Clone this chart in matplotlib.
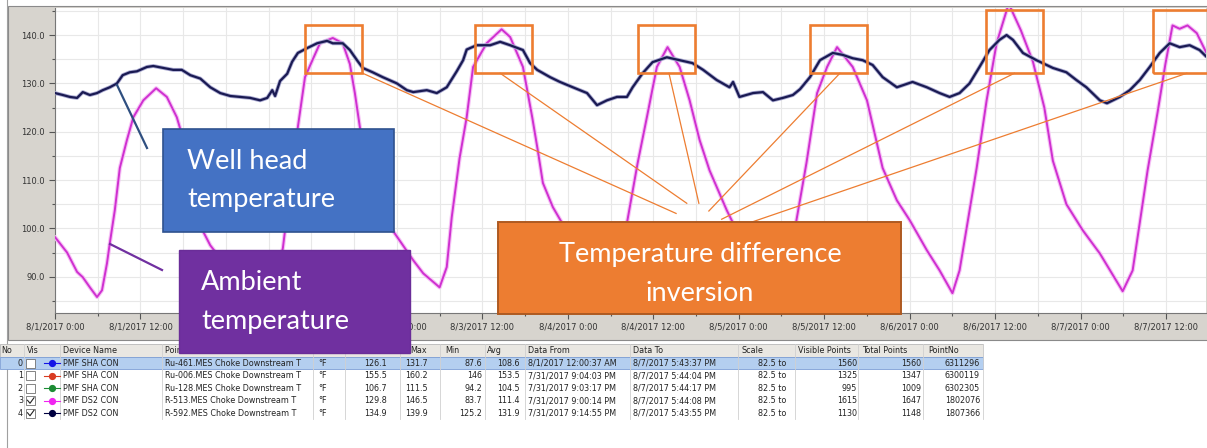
import numpy as np
import matplotlib
matplotlib.use("Agg")
import matplotlib.pyplot as plt
import matplotlib.transforms as mtransforms
from matplotlib.patches import Rectangle
from matplotlib.lines import Line2D

# ---- data (hours since 8/1/2017 0:00, deg F) ----
wh_h = [0.0, 1.1, 2.1, 3.1, 3.9, 4.9, 5.9, 6.7, 7.7, 8.7,
        9.5, 10.5, 11.5, 12.9, 13.8, 15.2, 16.6, 17.8, 19.0, 20.4,
        21.8, 23.2, 24.6, 26.0, 27.4, 28.8, 29.8, 30.5, 30.9, 31.6,
        32.6, 33.3, 34.1, 35.4, 36.8, 38.2, 39.0, 40.4, 41.4, 42.4,
        43.2, 44.6, 46.0, 48.0, 49.4, 50.3, 52.2, 53.6, 55.0, 56.4,
        57.3, 57.8, 59.2, 61.1, 62.5, 63.9, 65.7, 66.7, 67.7, 69.5,
        70.9, 72.7, 74.7, 76.1, 77.5, 78.9, 80.3, 81.1, 82.5, 83.9,
        85.9, 87.7, 89.5, 91.0, 92.9, 94.7, 95.2, 96.1, 98.0, 99.4,
        100.8, 102.2, 103.6, 104.6, 106.0, 107.4, 109.2, 110.6, 112.0, 113.4,
        114.8, 116.2, 118.2, 120.4, 122.4, 124.2, 125.6, 127.0, 128.4, 129.8,
        131.2, 132.6, 133.6, 134.5, 135.9, 137.8, 140.1, 142.0, 143.4, 144.8,
        146.7, 147.7, 149.5, 150.9, 152.3, 153.7, 155.1, 156.5, 157.9, 159.3,
        160.7, 161.6]
wh_t = [128.0, 127.6, 127.2, 127.0, 128.2, 127.6, 128.0, 128.6, 129.2, 130.0,
        131.7, 132.3, 132.5, 133.4, 133.6, 133.2, 132.8, 132.8, 131.7, 131.0,
        129.2, 128.0, 127.4, 127.2, 127.0, 126.5, 127.0, 128.6, 127.4, 130.5,
        132.0, 134.5, 136.3, 137.3, 138.3, 138.8, 138.3, 138.3, 136.9, 134.8,
        133.2, 132.3, 131.3, 130.0, 128.6, 128.2, 128.6, 128.0, 129.2, 132.5,
        134.8, 137.0, 137.9, 137.9, 138.6, 137.9, 136.9, 134.2, 132.8, 131.3,
        130.3, 129.2, 128.0, 125.5, 126.5, 127.2, 127.2, 129.2, 132.1, 134.4,
        135.4, 134.8, 134.2, 132.8, 130.7, 129.2, 130.3, 127.2, 128.0, 128.2,
        126.5, 127.0, 127.6, 128.8, 131.3, 134.8, 136.3, 135.9, 135.2, 134.8,
        133.8, 131.3, 129.2, 130.3, 129.2, 128.0, 127.2, 128.0, 130.0, 133.4,
        136.9, 139.0, 140.0, 139.0, 136.3, 134.8, 133.2, 132.3, 130.7, 129.2,
        126.5, 125.9, 127.2, 128.6, 130.7, 133.4, 136.3, 138.3, 137.5, 137.9,
        136.9, 135.6]

amb_h = [0.0, 1.7, 3.1, 3.9, 4.9, 5.9, 6.6, 7.3, 7.7, 8.4,
         9.1, 10.1, 11.0, 12.4, 14.2, 15.7, 17.1, 18.3, 19.4, 20.4,
         21.8, 23.9, 26.0, 28.1, 29.9, 30.9, 32.0, 33.0, 34.1, 35.1,
         36.2, 37.2, 39.0, 40.4, 41.4, 42.1, 42.8, 43.9, 45.3, 47.4,
         50.3, 51.7, 54.0, 55.0, 55.7, 56.8, 57.8, 58.7, 60.6, 62.7,
         63.9, 65.7, 67.0, 67.8, 68.5, 69.9, 71.2, 73.0, 75.1, 78.0,
         79.3, 80.3, 81.8, 83.1, 84.5, 86.0, 87.7, 89.1, 90.5, 91.9,
         94.3, 95.2, 97.5, 99.7, 102.0, 103.2, 104.1, 105.5, 107.0, 108.4,
         109.8, 112.0, 114.0, 116.2, 118.2, 120.0, 122.4, 124.2, 126.0, 127.0,
         129.4, 130.8, 132.2, 133.9, 135.6, 137.3, 138.9, 140.1, 142.0, 144.3,
         146.7, 149.9, 151.3, 153.4, 154.8, 155.9, 156.9, 157.9, 159.0, 160.3,
         161.6]
amb_t = [98.2, 95.0, 91.0, 89.9, 87.8, 85.8, 87.2, 92.8, 97.0, 103.8,
         112.5, 118.3, 123.0, 126.5, 129.0, 127.2, 123.0, 117.0, 109.0, 100.5,
         96.5, 92.5, 89.5, 86.5, 84.0, 88.0, 96.0, 108.0, 121.0, 131.3,
         135.0, 138.3, 139.4, 138.3, 134.0, 128.0, 121.0, 113.0, 107.0, 99.6,
         93.4, 90.7, 87.8, 92.0, 102.3, 114.5, 123.0, 133.4, 138.3, 141.2,
         139.6, 133.4, 123.0, 116.0, 109.4, 104.4, 101.1, 96.5, 92.0, 87.0,
         93.0, 101.1, 113.5, 123.0, 133.4, 137.5, 133.4, 126.5, 118.3, 112.0,
         103.8, 101.1, 96.0, 91.5, 87.0, 93.0, 101.7, 113.5, 128.0, 133.4,
         137.5, 133.4, 126.5, 112.5, 105.8, 101.7, 95.5, 91.3, 86.6, 91.3,
         112.5, 126.5, 138.3, 146.5, 141.0, 134.5, 125.0, 114.0, 105.0, 99.6,
         94.8, 87.0, 91.3, 112.0, 124.0, 134.0, 142.0, 141.3, 142.0, 140.4,
         136.5]

x_labels = ["8/1/2017 0:00", "8/1/2017 12:00", "8/2/2017 0:00", "8/2/2017 12:00",
            "8/3/2017 0:00", "8/3/2017 12:00", "8/4/2017 0:00", "8/4/2017 12:00",
            "8/5/2017 0:00", "8/5/2017 12:00", "8/6/2017 0:00", "8/6/2017 12:00",
            "8/7/2017 0:00", "8/7/2017 12:00"]
y_ticks = [90, 100, 110, 120, 130, 140]

# highlighted peaks (centre hour, top of box) and where their callout lines meet
peak_h = [39.1, 63.0, 85.8, 110.0, 134.7, 158.1]
peak_top = [142.1, 142.1, 142.1, 142.1, 145.2, 145.2]
link_from = [(43.2, 132.1), (62.5, 132.1), (86.2, 132.1), (110.2, 132.1), (134.7, 132.1), (158.9, 132.1)]
link_to = [(87.2, 103.1), (88.7, 105.2), (90.4, 105.2), (91.8, 103.6), (93.6, 101.9), (97.8, 101.3)]

# ---- legend table under the chart ----
col_heads = ["No", "Vis", "Device Name", "Point Name", "Units", "Value", "Max", "Min",
             "Avg", "Data From", "Data To", "Scale", "Visible Points", "Total Points", "PointNo"]
row_no = ["0", "1", "2", "3", "4"]
vis = [False, False, False, True, True]
dot_colors = ["#1414e6", "#d93b22", "#1c8c34", "#f024f0", "#000040"]
device = ["PMF SHA CON", "PMF SHA CON", "PMF SHA CON", "PMF DS2 CON", "PMF DS2 CON"]
point = ["Ru-461.MES Choke Downstream T", "Ru-006.MES Choke Downstream T",
         "Ru-128.MES Choke Downstream T", "R-513.MES Choke Downstream T",
         "R-592.MES Choke Downstream T"]
units = ["°F"] * 5
value = ["126.1", "155.5", "106.7", "129.8", "134.9"]
vmax = ["131.7", "160.2", "111.5", "146.5", "139.9"]
vmin = ["87.6", "146", "94.2", "83.7", "125.2"]
avg = ["108.6", "153.5", "104.5", "111.4", "131.9"]
data_from = ["8/1/2017 12:00:37 AM", "7/31/2017 9:04:03 PM", "7/31/2017 9:03:17 PM",
             "7/31/2017 9:00:14 PM", "7/31/2017 9:14:55 PM"]
data_to = ["8/7/2017 5:43:37 PM", "8/7/2017 5:44:04 PM", "8/7/2017 5:44:17 PM",
           "8/7/2017 5:44:08 PM", "8/7/2017 5:43:55 PM"]
scale = ["82.5 to"] * 5
visible = ["1560", "1325", "995", "1615", "1130"]
total = ["1560", "1347", "1009", "1647", "1148"]
pointno = ["6311296", "6300119", "6302305", "1802076", "1807366"]

W, H = 1207, 448
fig = plt.figure(figsize=(W / 100, H / 100), dpi=100)
fig.patch.set_facecolor("white")
# pixel coords measured from the top-left corner
px = mtransforms.Affine2D().scale(1 / W, -1 / H).translate(0, 1) + fig.transFigure


def box(x0, y0, x1, y1, z=-1, **kw):
    r = Rectangle((x0, y0), x1 - x0, y1 - y0, transform=px, zorder=z, **kw)
    fig.add_artist(r)
    return r


def seg(xs, ys, z=-1, **kw):
    fig.add_artist(Line2D(xs, ys, transform=px, zorder=z, **kw))


def txt(x, y, s, z=2, **kw):
    kw.setdefault("fontsize", 5.8)
    kw.setdefault("color", "#222222")
    kw.setdefault("va", "center")
    fig.text(x, y, s, transform=px, zorder=z, **kw)


# window frame of the trend tool
box(8, 6, W + 5, 340, z=-3, facecolor="#d7d4ce", edgecolor="#8a8a8a", lw=0.8)
seg([7, 7], [0, H], z=-2, color="#a0a0a0", lw=0.8)

ax = fig.add_axes([55 / W, 1 - 313 / H, (1206 - 55) / W, (313 - 8) / H])
ax.set_facecolor("white")
ax.set_xlim(0, 161.6)
ax.set_ylim(82.5, 145.6)
ax.set_xticks(np.arange(0, 12 * len(x_labels), 12))
ax.set_xticklabels(x_labels)
ax.set_xticks(np.arange(6, 162, 12), minor=True)
ax.set_yticks(y_ticks)
ax.set_yticklabels([f"{v:.1f}" for v in y_ticks])
ax.set_yticks(np.arange(85, 146, 10), minor=True)
ax.grid(which="both", color="#e8e8e8", lw=0.8)
ax.set_axisbelow(True)
ax.tick_params(which="both", colors="#555555", labelsize=6, labelcolor="#333333", width=0.8)
ax.tick_params(which="major", length=4)
ax.tick_params(which="minor", length=2.5)
ax.tick_params(axis="x", pad=3)
for s in ["top", "right"]:
    ax.spines[s].set_visible(False)
for s in ["left", "bottom"]:
    ax.spines[s].set_color("#777777")

ax.plot(amb_h, amb_t, color="#f6c2f6", lw=3.0, solid_capstyle="round", zorder=3)
ax.plot(amb_h, amb_t, color="#cf30d0", lw=1.4, zorder=4)
ax.plot(wh_h, wh_t, color="#a8a8d0", lw=2.8, solid_capstyle="round", zorder=5)
ax.plot(wh_h, wh_t, color="#1a1a52", lw=1.6, zorder=6)

orange = "#ED7D31"
for h, top in zip(peak_h, peak_top):
    ax.add_patch(Rectangle((h - 4.0, 132.1), 8.0, top - 132.1, fill=False,
                           edgecolor=orange, lw=1.9, zorder=8, clip_on=False))
for (x0, y0), (x1, y1) in zip(link_from, link_to):
    ax.plot([x0, x1], [y0, y1], color=orange, lw=0.9, zorder=8, clip_on=False)

# ---- callout boxes ----
seg([117, 147], [85, 148], z=9, color="#2f4f80", lw=1.6)
seg([110, 162], [244, 270], z=9, color="#7030A0", lw=1.6)

box(163, 129, 394, 232, z=10, facecolor="#4472C4", edgecolor="#2F528F", lw=1.2)
box(179, 250, 410, 353, z=10, facecolor="#7030A0", edgecolor="#6a2d98", lw=1.0)
box(498, 222, 901, 314, z=10, facecolor="#ED7D31", edgecolor="#AE5A21", lw=1.4)

cf = dict(family=["Lato", "DejaVu Sans"], fontsize=19.5, color="white", va="baseline", z=11)
txt(187, 169, "Well head", **cf)
txt(187, 207, "temperature", **cf)
txt(201, 290, "Ambient", **cf)
txt(201, 329, "temperature", **cf)
txt(700, 262, "Temperature difference", ha="center", **cf)
txt(700, 301, "inversion", ha="center", **cf)

# ---- table ----
tab_r = 983
head_y0, head_y1 = 344, 357
row_h = 12.5
box(0, head_y0, tab_r, head_y1, z=-2, facecolor="#e9e7e2", edgecolor="#b8b8b8", lw=0.6)
box(0, head_y1, tab_r, head_y1 + row_h, z=-2, facecolor="#b4cff0", edgecolor="#7d9fd6", lw=0.6)
col_lines = [24, 60, 162, 313, 345, 400, 440, 485, 525, 630, 738, 795, 858, 923, tab_r]
for cx in col_lines:
    seg([cx, cx], [head_y0, head_y1 + 5 * row_h], z=-1.5, color="#d0d0d0", lw=0.6)

head_x = [1, 27, 63, 165, 318, 350, 410, 445, 487, 528, 633, 742, 798, 862, 928]
for hx, lab in zip(head_x, col_heads):
    txt(hx, (head_y0 + head_y1) / 2, lab)

for i in range(len(row_no)):
    yc = head_y1 + row_h * (i + 0.5)
    txt(23, yc, row_no[i], ha="right")
    box(26, yc - 4.5, 35, yc + 4.5, z=1, facecolor="white", edgecolor="#707070", lw=0.6)
    if vis[i]:
        seg([27.5, 30, 34], [yc - 0.5, yc + 2.5, yc - 3], z=2, color="#222222", lw=0.8)
    seg([44, 60], [yc, yc], z=1, color=dot_colors[i], lw=0.8)
    seg([52], [yc], z=2, color=dot_colors[i], marker="o", markersize=4.2, lw=0)
    txt(63, yc, device[i])
    txt(165, yc, point[i])
    txt(318, yc, units[i])
    txt(387, yc, value[i], ha="right")
    txt(428, yc, vmax[i], ha="right")
    txt(482, yc, vmin[i], ha="right")
    txt(520, yc, avg[i], ha="right")
    txt(528, yc, data_from[i])
    txt(633, yc, data_to[i])
    txt(758, yc, scale[i])
    txt(857, yc, visible[i], ha="right")
    txt(921, yc, total[i], ha="right")
    txt(980, yc, pointno[i], ha="right")

fig.savefig("out.png", dpi=100)
